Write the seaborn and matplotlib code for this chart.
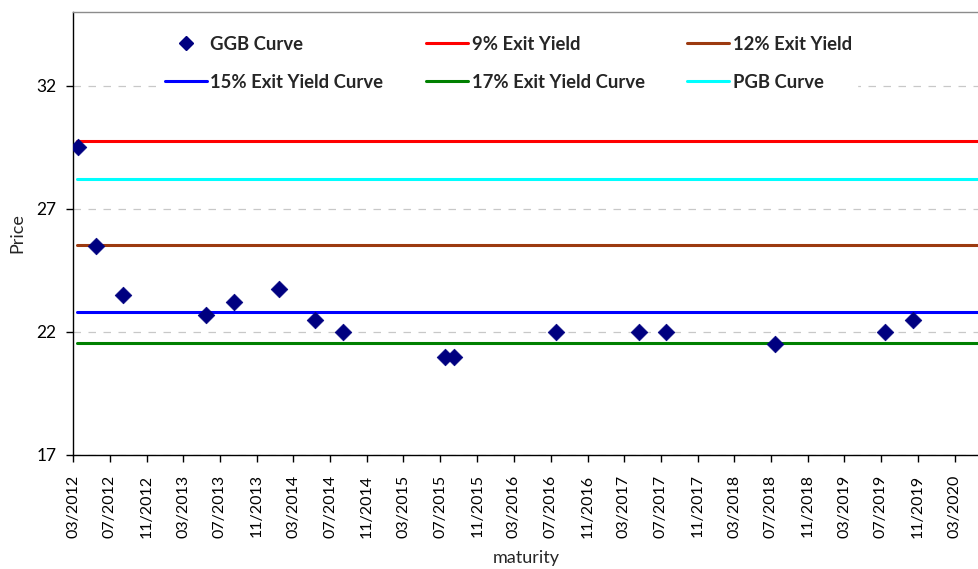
import matplotlib
matplotlib.use("Agg")
import matplotlib.pyplot as plt
import matplotlib.dates as mdates
from matplotlib.lines import Line2D
import numpy as np
import pandas as pd
import seaborn as sns

# GGB bond maturities and prices
ggb_dates = ["2012-03-17", "2012-05-15", "2012-08-15", "2013-05-15", "2013-08-15",
             "2014-01-14", "2014-05-13", "2014-08-14", "2015-07-16", "2015-08-16",
             "2016-07-19", "2017-04-19", "2017-07-19", "2018-07-16", "2019-07-16",
             "2019-10-16"]
ggb_prices = [29.5, 25.5, 23.5, 22.7, 23.2, 23.75, 22.5, 22.0, 21.0, 21.0,
              22.0, 22.0, 22.0, 21.5, 22.0, 22.5]

# Flat reference curves
curve_names = ["9% Exit Yield", "12% Exit Yield", "15% Exit Yield Curve",
               "17% Exit Yield Curve", "PGB Curve"]
curve_levels = [29.75, 25.55, 22.8, 21.55, 28.2]
curve_colors = ["#FF0000", "#9C3A10", "#0000FF", "#008000", "#00FFFF"]
curve_span = ["2012-03-15", "2021-06-01"]

y_ticks = [17, 22, 27, 32]

sns.set_theme(style="white")
plt.rcParams["font.family"] = ["Lato", "DejaVu Sans"]

fig = plt.figure(figsize=(9.79, 5.69), dpi=100)
ax = fig.add_axes([0.0746, 0.2004, 0.9254, 0.7786])

ggb = pd.DataFrame({"maturity": pd.to_datetime(ggb_dates), "Price": ggb_prices})

rows = []
for name, lvl in zip(curve_names, curve_levels):
    for d in curve_span:
        rows.append({"maturity": pd.Timestamp(d), "Price": lvl, "curve": name})
curves = pd.DataFrame(rows)

sns.lineplot(data=curves, x="maturity", y="Price", hue="curve",
             hue_order=curve_names, palette=curve_colors, linewidth=2.2,
             legend=False, ax=ax, zorder=2)
sns.scatterplot(data=ggb, x="maturity", y="Price", marker="D", s=72,
                color="#000080", edgecolor="#000080", linewidth=0.5,
                legend=False, ax=ax, zorder=3)

ax.set_ylim(17, 35)
ax.set_yticks(y_ticks)
ax.set_xlim(pd.Timestamp("2012-03-01"), pd.Timestamp("2020-05-21"))
ax.xaxis.set_major_locator(mdates.MonthLocator(bymonth=[3, 7, 11], bymonthday=1))
ax.xaxis.set_major_formatter(mdates.DateFormatter("%m/%Y"))
for lab in ax.get_xticklabels():
    lab.set_rotation(90)

ax.yaxis.grid(True, linestyle=(0, (6, 6)), color="#c8c8c8", linewidth=0.9)
ax.xaxis.grid(False)
ax.set_axisbelow(True)

ax.tick_params(axis="both", which="major", direction="out", length=5, width=1,
               color="black", labelcolor="black", bottom=True, left=True)
ax.tick_params(axis="x", pad=9, labelsize=11.5)
ax.tick_params(axis="y", pad=7, labelsize=12.5)

for side in ["left", "bottom"]:
    ax.spines[side].set_color("black")
    ax.spines[side].set_linewidth(1.0)
ax.spines["top"].set_color("#8c8c8c")
ax.spines["top"].set_linewidth(1.0)
ax.spines["right"].set_visible(False)

ax.set_xlabel("maturity", fontsize=13, labelpad=9)
ax.set_ylabel("Price", fontsize=13, labelpad=8)

# Legend laid out in three columns, two rows
h = {"GGB Curve": Line2D([], [], marker="D", linestyle="none", color="#000080",
                         markersize=7)}
for name, c in zip(curve_names, curve_colors):
    h[name] = Line2D([], [], color=c, linewidth=2.2)
order = ["GGB Curve", "15% Exit Yield Curve", "9% Exit Yield",
         "17% Exit Yield Curve", "12% Exit Yield", "PGB Curve"]
leg = ax.legend([h[k] for k in order], order, ncol=3, loc="upper left",
                bbox_to_anchor=(0.085, 0.98), frameon=True, fancybox=False,
                facecolor="white", edgecolor="white", framealpha=1,
                prop={"weight": "bold", "size": 13.3}, columnspacing=2.3,
                handlelength=2.27, handletextpad=0.2, labelspacing=1.15,
                borderpad=0.3)

fig.savefig("out.png", dpi=100)
